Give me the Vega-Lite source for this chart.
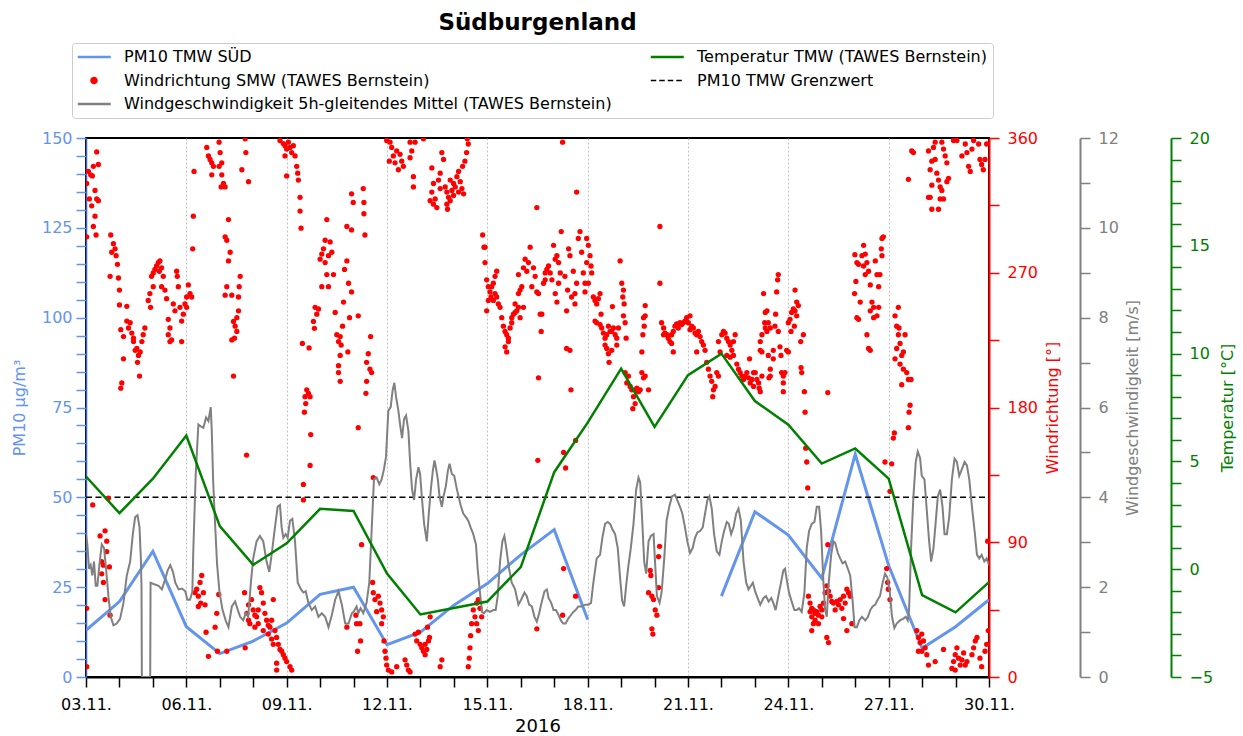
{
  "$schema": "https://vega.github.io/schema/vega-lite/v6.json",
  "width": 903,
  "height": 539,
  "autosize": "none",
  "padding": {"left": 86, "top": 138, "right": 254, "bottom": 59},
  "background": "white",
  "title": {"text": "Südburgenland", "font": "DejaVu Sans", "fontSize": 23, "fontWeight": "bold", "color": "black", "anchor": "middle", "offset": 8},
  "config": {
    "view": {"stroke": "black", "strokeWidth": 2},
    "font": "DejaVu Sans",
    "axis": {"labelFont": "DejaVu Sans", "titleFont": "DejaVu Sans", "labelFontSize": 16, "titleFontSize": 16, "titleFontWeight": "normal", "labelFlush": false, "labelBound": false, "labelOverlap": false, "grid": false, "tickWidth": 1.5, "domainWidth": 2}
  },
  "datasets": {
    "pm10": [
      {"day": 3, "pm10": 13, "abschnitt": "A"}, {"day": 4, "pm10": 21, "abschnitt": "A"}, {"day": 5, "pm10": 35, "abschnitt": "A"},
      {"day": 6, "pm10": 14, "abschnitt": "A"}, {"day": 7, "pm10": 6.5, "abschnitt": "A"}, {"day": 8, "pm10": 10, "abschnitt": "A"},
      {"day": 9, "pm10": 15, "abschnitt": "A"}, {"day": 10, "pm10": 23, "abschnitt": "A"}, {"day": 11, "pm10": 25, "abschnitt": "A"},
      {"day": 12, "pm10": 9, "abschnitt": "A"}, {"day": 13, "pm10": 12.5, "abschnitt": "A"}, {"day": 14, "pm10": 20, "abschnitt": "A"},
      {"day": 15, "pm10": 26, "abschnitt": "A"}, {"day": 16, "pm10": 34, "abschnitt": "A"}, {"day": 17, "pm10": 41, "abschnitt": "A"},
      {"day": 18, "pm10": 16, "abschnitt": "A"},
      {"day": 22, "pm10": 22.5, "abschnitt": "B"}, {"day": 23, "pm10": 46, "abschnitt": "B"}, {"day": 24, "pm10": 39.5, "abschnitt": "B"},
      {"day": 25, "pm10": 27.5, "abschnitt": "B"}, {"day": 26, "pm10": 62, "abschnitt": "B"}, {"day": 27, "pm10": 31, "abschnitt": "B"},
      {"day": 28, "pm10": 8, "abschnitt": "B"}, {"day": 29, "pm10": 14, "abschnitt": "B"}, {"day": 30, "pm10": 21.5, "abschnitt": "B"}
    ],
    "grenzwert": [{"day": 3, "grenzwert": 50}, {"day": 30, "grenzwert": 50}],
    "temp": [
      {"day": 3, "temp": 4.3}, {"day": 4, "temp": 2.6}, {"day": 5, "temp": 4.2}, {"day": 6, "temp": 6.2}, {"day": 7, "temp": 2.0},
      {"day": 8, "temp": 0.2}, {"day": 9, "temp": 1.2}, {"day": 10, "temp": 2.8}, {"day": 11, "temp": 2.7}, {"day": 12, "temp": -0.2},
      {"day": 13, "temp": -2.1}, {"day": 14, "temp": -1.8}, {"day": 15, "temp": -1.5}, {"day": 16, "temp": 0.1}, {"day": 17, "temp": 4.5},
      {"day": 18, "temp": 6.8}, {"day": 19, "temp": 9.3}, {"day": 20, "temp": 6.6}, {"day": 21, "temp": 9.0}, {"day": 22, "temp": 10.0},
      {"day": 23, "temp": 7.8}, {"day": 24, "temp": 6.7}, {"day": 25, "temp": 4.9}, {"day": 26, "temp": 5.6}, {"day": 27, "temp": 4.2},
      {"day": 28, "temp": -1.2}, {"day": 29, "temp": -2.0}, {"day": 30, "temp": -0.6}
    ],
    "ws": [
      {"day":3.00,"ws":3.18},{"day":3.04,"ws":2.95},{"day":3.09,"ws":2.41},{"day":3.14,"ws":2.49},{"day":3.19,"ws":2.26},{"day":3.24,"ws":2.57},
      {"day":3.29,"ws":2.03},{"day":3.34,"ws":2.03},{"day":3.40,"ws":2.49},{"day":3.47,"ws":2.95},{"day":3.54,"ws":2.87},{"day":3.60,"ws":2.41},
      {"day":3.67,"ws":1.80},{"day":3.74,"ws":1.34},{"day":3.82,"ws":1.15},{"day":3.92,"ws":1.19},{"day":4.02,"ws":1.30},{"day":4.12,"ws":1.65},
      {"day":4.22,"ws":2.26},{"day":4.32,"ws":2.57},{"day":4.40,"ws":3.18},{"day":4.47,"ws":3.56},{"day":4.54,"ws":3.60},{"day":4.60,"ws":3.33},
      {"day":4.64,"ws":2.64},{"day":4.66,"ws":2.0},{"day":4.67,"ws":0},{"day":4.92,"ws":0},{"day":4.93,"ws":2.1},{"day":5.02,"ws":2.07},
      {"day":5.17,"ws":2.03},{"day":5.27,"ws":1.95},{"day":5.37,"ws":2.18},{"day":5.44,"ws":2.37},{"day":5.52,"ws":2.49},{"day":5.60,"ws":2.34},
      {"day":5.67,"ws":2.10},{"day":5.77,"ws":1.95},{"day":5.87,"ws":1.97},{"day":5.97,"ws":1.91},{"day":6.03,"ws":1.72},{"day":6.11,"ws":1.72},
      {"day":6.18,"ws":1.90},{"day":6.21,"ws":2.87},{"day":6.28,"ws":4.5},{"day":6.36,"ws":5.62},{"day":6.43,"ws":5.58},{"day":6.51,"ws":5.55},
      {"day":6.59,"ws":5.78},{"day":6.66,"ws":5.70},{"day":6.73,"ws":6.01},{"day":6.76,"ws":5.5},{"day":6.80,"ws":4.4},{"day":6.86,"ws":3.4},
      {"day":6.92,"ws":2.5},{"day":6.99,"ws":1.9},{"day":7.08,"ws":1.5},{"day":7.18,"ws":1.25},{"day":7.26,"ws":1.11},{"day":7.36,"ws":1.57},
      {"day":7.46,"ws":1.68},{"day":7.54,"ws":1.49},{"day":7.61,"ws":1.34},{"day":7.70,"ws":1.26},{"day":7.78,"ws":1.42},{"day":7.85,"ws":1.34},
      {"day":7.93,"ws":2.10},{"day":8.00,"ws":2.64},{"day":8.10,"ws":3.02},{"day":8.20,"ws":3.14},{"day":8.30,"ws":3.02},{"day":8.40,"ws":2.57},
      {"day":8.48,"ws":2.34},{"day":8.55,"ws":2.72},{"day":8.65,"ws":3.33},{"day":8.73,"ws":3.79},{"day":8.80,"ws":3.83},{"day":8.85,"ws":3.33},
      {"day":8.90,"ws":3.10},{"day":8.97,"ws":3.18},{"day":9.03,"ws":3.10},{"day":9.10,"ws":3.48},{"day":9.17,"ws":3.52},{"day":9.25,"ws":3.02},
      {"day":9.33,"ws":2.10},{"day":9.43,"ws":1.95},{"day":9.50,"ws":1.88},{"day":9.57,"ws":1.91},{"day":9.65,"ws":1.65},{"day":9.75,"ws":1.49},
      {"day":9.85,"ws":1.57},{"day":9.95,"ws":1.34},{"day":10.05,"ws":1.42},{"day":10.15,"ws":1.34},{"day":10.25,"ws":1.11},{"day":10.35,"ws":1.38},
      {"day":10.45,"ws":1.72},{"day":10.55,"ws":1.91},{"day":10.65,"ws":1.61},{"day":10.75,"ws":1.19},{"day":10.85,"ws":1.19},{"day":10.95,"ws":1.42},
      {"day":11.00,"ws":1.45},{"day":11.09,"ws":1.57},{"day":11.14,"ws":1.42},{"day":11.21,"ws":1.53},{"day":11.29,"ws":1.42},{"day":11.39,"ws":1.65},
      {"day":11.47,"ws":2.10},{"day":11.54,"ws":3.25},{"day":11.61,"ws":4.40},{"day":11.69,"ws":4.44},{"day":11.77,"ws":4.29},{"day":11.84,"ws":4.40},
      {"day":11.91,"ws":4.63},{"day":11.97,"ws":4.90},{"day":12.04,"ws":5.93},{"day":12.11,"ws":6.01},{"day":12.17,"ws":6.39},{"day":12.22,"ws":6.55},
      {"day":12.27,"ws":6.24},{"day":12.34,"ws":5.93},{"day":12.39,"ws":5.63},{"day":12.45,"ws":5.32},{"day":12.51,"ws":5.74},{"day":12.57,"ws":5.82},
      {"day":12.64,"ws":5.48},{"day":12.69,"ws":4.79},{"day":12.75,"ws":4.17},{"day":12.81,"ws":3.94},{"day":12.87,"ws":4.40},{"day":12.94,"ws":4.67},
      {"day":12.99,"ws":4.52},{"day":13.04,"ws":4.02},{"day":13.11,"ws":3.41},{"day":13.19,"ws":3.02},{"day":13.25,"ws":3.64},{"day":13.31,"ws":4.17},
      {"day":13.37,"ws":4.59},{"day":13.42,"ws":4.82},{"day":13.47,"ws":4.63},{"day":13.52,"ws":4.40},{"day":13.57,"ws":4.02},{"day":13.64,"ws":3.79},
      {"day":13.69,"ws":4.02},{"day":13.76,"ws":4.25},{"day":13.82,"ws":4.59},{"day":13.87,"ws":4.75},{"day":13.94,"ws":4.52},{"day":14.01,"ws":4.48},
      {"day":14.07,"ws":4.25},{"day":14.14,"ws":4.02},{"day":14.20,"ws":3.83},{"day":14.28,"ws":3.64},{"day":14.36,"ws":3.56},{"day":14.43,"ws":3.48},
      {"day":14.50,"ws":3.33},{"day":14.58,"ws":3.18},{"day":14.66,"ws":2.95},{"day":14.71,"ws":2.41},{"day":14.78,"ws":1.88},{"day":14.84,"ws":1.45},
      {"day":14.90,"ws":1.42},{"day":14.98,"ws":1.49},{"day":15.08,"ws":1.45},{"day":15.18,"ws":1.49},{"day":15.25,"ws":1.49},{"day":15.31,"ws":1.80},
      {"day":15.38,"ws":2.57},{"day":15.45,"ws":3.02},{"day":15.51,"ws":3.14},{"day":15.58,"ws":2.80},{"day":15.65,"ws":2.41},{"day":15.73,"ws":2.10},
      {"day":15.83,"ws":1.95},{"day":15.93,"ws":1.61},{"day":16.01,"ws":1.72},{"day":16.11,"ws":1.88},{"day":16.18,"ws":1.80},{"day":16.25,"ws":1.61},
      {"day":16.33,"ws":1.57},{"day":16.41,"ws":1.34},{"day":16.48,"ws":1.23},{"day":16.55,"ws":1.42},{"day":16.63,"ws":1.68},{"day":16.71,"ws":1.91},
      {"day":16.78,"ws":1.95},{"day":16.83,"ws":1.76},{"day":16.91,"ws":1.65},{"day":16.98,"ws":1.49},{"day":17.05,"ws":1.49},{"day":17.13,"ws":1.38},
      {"day":17.20,"ws":1.26},{"day":17.27,"ws":1.19},{"day":17.34,"ws":1.19},{"day":17.42,"ws":1.30},{"day":17.50,"ws":1.38},{"day":17.57,"ws":1.45},
      {"day":17.64,"ws":1.49},{"day":17.72,"ws":1.57},{"day":17.82,"ws":1.57},{"day":17.92,"ws":1.61},{"day":18.02,"ws":1.61},{"day":18.10,"ws":1.65},
      {"day":18.17,"ws":2.10},{"day":18.27,"ws":2.64},{"day":18.37,"ws":2.72},{"day":18.44,"ws":3.10},{"day":18.52,"ws":3.41},{"day":18.60,"ws":3.45},
      {"day":18.67,"ws":3.41},{"day":18.74,"ws":3.29},{"day":18.82,"ws":3.18},{"day":18.90,"ws":2.87},{"day":18.97,"ws":2.20},{"day":19.03,"ws":1.70},
      {"day":19.09,"ws":1.57},{"day":19.15,"ws":2.03},{"day":19.22,"ws":2.49},{"day":19.29,"ws":2.87},{"day":19.37,"ws":3.41},{"day":19.45,"ws":4.17},
      {"day":19.52,"ws":4.44},{"day":19.57,"ws":4.33},{"day":19.62,"ws":3.64},{"day":19.69,"ws":2.57},{"day":19.75,"ws":2.30},{"day":19.82,"ws":3.02},
      {"day":19.89,"ws":3.14},{"day":19.97,"ws":3.18},{"day":20.02,"ws":2.49},{"day":20.07,"ws":1.80},{"day":20.15,"ws":1.65},{"day":20.21,"ws":1.88},
      {"day":20.29,"ws":2.64},{"day":20.36,"ws":3.48},{"day":20.44,"ws":3.79},{"day":20.52,"ws":4.02},{"day":20.61,"ws":4.06},{"day":20.68,"ws":3.94},
      {"day":20.76,"ws":3.79},{"day":20.83,"ws":3.64},{"day":20.91,"ws":3.33},{"day":20.98,"ws":3.02},{"day":21.06,"ws":2.76},{"day":21.14,"ws":2.87},
      {"day":21.21,"ws":3.10},{"day":21.28,"ws":3.22},{"day":21.36,"ws":3.25},{"day":21.44,"ws":3.33},{"day":21.51,"ws":3.64},{"day":21.58,"ws":3.94},
      {"day":21.64,"ws":4.02},{"day":21.71,"ws":3.75},{"day":21.78,"ws":3.18},{"day":21.86,"ws":2.80},{"day":21.94,"ws":2.72},{"day":22.01,"ws":3.02},
      {"day":22.08,"ws":3.25},{"day":22.16,"ws":3.45},{"day":22.22,"ws":3.41},{"day":22.29,"ws":3.18},{"day":22.36,"ws":3.33},{"day":22.44,"ws":3.64},
      {"day":22.51,"ws":3.75},{"day":22.58,"ws":3.48},{"day":22.66,"ws":2.57},{"day":22.74,"ws":2.10},{"day":22.81,"ws":1.95},{"day":22.88,"ws":2.03},
      {"day":22.94,"ws":2.10},{"day":23.01,"ws":1.90},{"day":23.08,"ws":1.76},{"day":23.16,"ws":1.61},{"day":23.26,"ws":1.76},{"day":23.33,"ws":1.80},
      {"day":23.41,"ws":1.68},{"day":23.49,"ws":1.76},{"day":23.55,"ws":1.65},{"day":23.62,"ws":1.49},{"day":23.70,"ws":1.80},{"day":23.78,"ws":2.10},
      {"day":23.85,"ws":2.37},{"day":23.90,"ws":2.41},{"day":23.95,"ws":2.18},{"day":24.02,"ws":1.88},{"day":24.10,"ws":1.68},{"day":24.18,"ws":1.49},
      {"day":24.25,"ws":1.49},{"day":24.32,"ws":1.53},{"day":24.40,"ws":1.45},{"day":24.48,"ws":1.88},{"day":24.55,"ws":2.87},{"day":24.62,"ws":3.25},
      {"day":24.70,"ws":3.41},{"day":24.78,"ws":3.45},{"day":24.85,"ws":3.79},{"day":24.92,"ws":3.79},{"day":24.98,"ws":3.25},{"day":25.05,"ws":2.10},
      {"day":25.10,"ws":1.49},{"day":25.15,"ws":1.34},{"day":25.20,"ws":2.03},{"day":25.28,"ws":2.72},{"day":25.35,"ws":3.02},{"day":25.40,"ws":2.99},
      {"day":25.48,"ws":2.76},{"day":25.55,"ws":2.64},{"day":25.62,"ws":2.53},{"day":25.70,"ws":2.57},{"day":25.78,"ws":2.41},{"day":25.85,"ws":2.26},
      {"day":25.92,"ws":1.72},{"day":25.98,"ws":1.11},{"day":26.05,"ws":1.11},{"day":26.12,"ws":1.26},{"day":26.20,"ws":1.34},{"day":26.30,"ws":1.26},
      {"day":26.38,"ws":1.34},{"day":26.45,"ws":1.49},{"day":26.52,"ws":1.57},{"day":26.60,"ws":1.61},{"day":26.67,"ws":1.72},{"day":26.74,"ws":1.80},
      {"day":26.82,"ws":2.10},{"day":26.89,"ws":2.30},{"day":26.96,"ws":2.22},{"day":27.03,"ws":1.92},{"day":27.10,"ws":1.34},{"day":27.17,"ws":1.09},
      {"day":27.24,"ws":1.19},{"day":27.34,"ws":1.26},{"day":27.44,"ws":1.30},{"day":27.51,"ws":1.34},{"day":27.57,"ws":1.26},{"day":27.61,"ws":1.49},
      {"day":27.67,"ws":2.87},{"day":27.74,"ws":4.02},{"day":27.81,"ws":4.79},{"day":27.87,"ws":5.02},{"day":27.94,"ws":4.87},{"day":27.99,"ws":4.48},
      {"day":28.07,"ws":4.40},{"day":28.14,"ws":3.71},{"day":28.21,"ws":3.02},{"day":28.27,"ws":2.57},{"day":28.34,"ws":2.87},{"day":28.41,"ws":3.48},
      {"day":28.47,"ws":4.02},{"day":28.54,"ws":4.17},{"day":28.61,"ws":3.79},{"day":28.67,"ws":3.18},{"day":28.74,"ws":3.18},{"day":28.81,"ws":3.56},
      {"day":28.89,"ws":4.40},{"day":28.97,"ws":4.86},{"day":29.04,"ws":4.79},{"day":29.11,"ws":4.48},{"day":29.19,"ws":4.63},{"day":29.27,"ws":4.79},
      {"day":29.34,"ws":4.71},{"day":29.41,"ws":4.40},{"day":29.49,"ws":3.79},{"day":29.57,"ws":3.25},{"day":29.64,"ws":2.72},{"day":29.71,"ws":2.64},
      {"day":29.78,"ws":2.72},{"day":29.86,"ws":2.57},{"day":29.93,"ws":2.64},{"day":30.00,"ws":2.49}
    ],
    "wd": [
      {"day":3.02,"wd":329.6},{"day":3.07,"wd":337.7},{"day":3.14,"wd":335.4},{"day":3.19,"wd":334.7},{"day":3.10,"wd":319.3},{"day":3.17,"wd":314.7},
      {"day":3.27,"wd":325.0},{"day":3.32,"wd":319.3},{"day":3.37,"wd":318.1},{"day":3.22,"wd":341.1},{"day":3.32,"wd":350.7},{"day":3.27,"wd":307.8},
      {"day":3.22,"wd":300.9},{"day":3.02,"wd":294.0},{"day":3.30,"wd":295.2},{"day":3.37,"wd":342.3},{"day":3.74,"wd":295.2},{"day":3.82,"wd":289.4},
      {"day":3.87,"wd":286.0},{"day":3.77,"wd":283.7},{"day":3.90,"wd":281.4},{"day":3.94,"wd":275.6},{"day":3.72,"wd":267.6},{"day":3.97,"wd":266.5},
      {"day":4.00,"wd":258.4},{"day":4.00,"wd":248.5},{"day":4.22,"wd":247.6},{"day":4.04,"wd":232.0},{"day":4.12,"wd":227.4},{"day":4.22,"wd":237.7},
      {"day":4.27,"wd":233.1},{"day":4.32,"wd":236.6},{"day":4.37,"wd":229.7},{"day":4.42,"wd":224.0},{"day":4.47,"wd":218.2},{"day":4.52,"wd":219.4},
      {"day":4.57,"wd":214.8},{"day":4.62,"wd":217.1},{"day":4.67,"wd":224.0},{"day":4.71,"wd":228.6},{"day":4.76,"wd":233.1},{"day":4.54,"wd":210.2},
      {"day":4.60,"wd":201.0},{"day":4.07,"wd":196.4},{"day":4.04,"wd":192.9},{"day":4.12,"wd":212.5},{"day":4.42,"wd":226.3},{"day":4.86,"wd":251.5},
      {"day":4.91,"wd":256.1},{"day":4.96,"wd":267.6},{"day":5.01,"wd":269.9},{"day":5.06,"wd":272.2},{"day":5.11,"wd":274.5},{"day":5.16,"wd":276.8},
      {"day":5.21,"wd":277.9},{"day":5.26,"wd":273.3},{"day":5.19,"wd":271.0},{"day":5.31,"wd":267.6},{"day":5.26,"wd":260.7},{"day":5.36,"wd":258.4},
      {"day":5.41,"wd":252.7},{"day":4.93,"wd":246.9},{"day":5.01,"wd":260.7},{"day":5.46,"wd":238.9},{"day":5.51,"wd":233.1},{"day":5.46,"wd":228.6},
      {"day":5.56,"wd":225.1},{"day":5.51,"wd":224.0},{"day":5.61,"wd":249.2},{"day":5.66,"wd":244.6},{"day":5.71,"wd":271.0},{"day":5.73,"wd":267.6},
      {"day":5.76,"wd":260.7},{"day":5.81,"wd":246.9},{"day":5.86,"wd":237.7},{"day":5.86,"wd":224.0},{"day":5.91,"wd":242.3},{"day":5.96,"wd":249.2},
      {"day":6.01,"wd":253.8},{"day":6.06,"wd":261.9},{"day":6.11,"wd":256.1},{"day":6.16,"wd":253.8},{"day":6.01,"wd":246.9},{"day":6.23,"wd":337.7},
      {"day":6.21,"wd":307.8},{"day":6.19,"wd":286.0},{"day":6.61,"wd":353.7},{"day":6.66,"wd":348.0},{"day":6.71,"wd":345.7},{"day":6.76,"wd":343.4},
      {"day":6.81,"wd":341.1},{"day":6.76,"wd":335.4},
      {"day":3.02,"wd":6.9},{"day":3.02,"wd":45.9},{"day":3.20,"wd":114.9},{"day":3.67,"wd":119.4},{"day":3.42,"wd":94.2},{"day":3.57,"wd":97.6},
      {"day":3.62,"wd":90.7},{"day":3.47,"wd":77.0},{"day":3.52,"wd":74.7},{"day":3.47,"wd":68.9},{"day":3.52,"wd":63.2},{"day":3.57,"wd":51.7},
      {"day":3.62,"wd":83.8},{"day":3.70,"wd":73.5},{"day":3.72,"wd":41.3},{"day":6.26,"wd":56.3},{"day":6.31,"wd":58.6},{"day":6.36,"wd":54.0},
      {"day":6.41,"wd":63.2},{"day":6.46,"wd":67.8},{"day":6.51,"wd":56.3},{"day":6.43,"wd":49.4},{"day":6.36,"wd":47.1},{"day":6.56,"wd":48.2},
      {"day":6.59,"wd":29.9},{"day":6.66,"wd":13.8},{"day":6.86,"wd":33.3},{"day":6.91,"wd":42.5},{"day":6.97,"wd":55.1},{"day":6.93,"wd":17.2},
      {"day":6.98,"wd":357.2},{"day":7.01,"wd":350.3},{"day":7.06,"wd":343.4},{"day":6.98,"wd":341.1},{"day":7.06,"wd":335.4},{"day":7.11,"wd":329.6},
      {"day":7.04,"wd":327.3},{"day":7.16,"wd":327.3},{"day":7.26,"wd":305.5},{"day":7.16,"wd":294.0},{"day":7.21,"wd":291.7},{"day":7.31,"wd":283.7},
      {"day":7.26,"wd":277.9},{"day":7.21,"wd":260.7},{"day":7.16,"wd":255.0},{"day":7.36,"wd":255.0},{"day":7.56,"wd":253.8},{"day":7.61,"wd":267.6},
      {"day":7.58,"wd":260.7},{"day":7.56,"wd":244.6},{"day":7.51,"wd":240.0},{"day":7.41,"wd":237.5},{"day":7.46,"wd":234.3},{"day":7.51,"wd":230.8},
      {"day":7.44,"wd":226.3},{"day":7.36,"wd":225.1},{"day":7.41,"wd":201.0},{"day":7.80,"wd":148.2},{"day":7.66,"wd":338.8},{"day":7.78,"wd":350.3},
      {"day":7.86,"wd":330.8},{"day":7.76,"wd":359.5},{"day":8.80,"wd":358.3},{"day":8.90,"wd":356.3},{"day":8.95,"wd":354.9},{"day":9.00,"wd":352.6},
      {"day":9.05,"wd":357.2},{"day":9.10,"wd":353.7},{"day":9.15,"wd":350.3},{"day":9.20,"wd":354.9},{"day":9.25,"wd":348.0},{"day":8.95,"wd":348.0},
      {"day":9.00,"wd":334.7},{"day":9.30,"wd":341.1},{"day":9.33,"wd":336.5},{"day":9.35,"wd":331.9},{"day":9.40,"wd":320.4},{"day":9.40,"wd":311.2},
      {"day":9.43,"wd":299.8},{"day":9.47,"wd":222.8},{"day":9.67,"wd":219.8},{"day":9.60,"wd":191.8},{"day":9.65,"wd":189.5},{"day":9.55,"wd":187.2},
      {"day":9.70,"wd":187.2},{"day":9.57,"wd":182.6},{"day":9.53,"wd":176.9},{"day":9.72,"wd":161.9},{"day":9.70,"wd":141.3},{"day":9.50,"wd":128.6},
      {"day":9.50,"wd":118.3},{"day":10.20,"wd":305.5},{"day":10.15,"wd":291.7},{"day":10.10,"wd":286.0},{"day":10.05,"wd":282.5},{"day":10.00,"wd":279.1},
      {"day":10.15,"wd":276.8},{"day":10.25,"wd":281.4},{"day":10.30,"wd":290.6},{"day":10.35,"wd":283.7},{"day":10.20,"wd":268.8},{"day":10.40,"wd":268.8},
      {"day":10.05,"wd":260.7},{"day":10.25,"wd":260.7},{"day":9.85,"wd":246.9},{"day":9.95,"wd":245.8},{"day":9.90,"wd":242.3},{"day":9.80,"wd":237.5},
      {"day":9.83,"wd":232.9},{"day":10.80,"wd":300.9},{"day":10.80,"wd":277.9},{"day":10.73,"wd":272.2},{"day":10.85,"wd":263.0},{"day":10.70,"wd":250.4},
      {"day":10.45,"wd":243.5},{"day":10.67,"wd":234.3},{"day":10.50,"wd":228.6},{"day":10.60,"wd":227.4},{"day":10.55,"wd":224.0},{"day":10.63,"wd":221.7},
      {"day":10.60,"wd":214.8},{"day":10.83,"wd":217.1},{"day":10.55,"wd":207.9},{"day":10.55,"wd":203.3},{"day":10.60,"wd":197.5},{"day":10.88,"wd":240.0},
      {"day":7.21,"wd":17.2},{"day":7.76,"wd":19.5},{"day":7.74,"wd":56.3},{"day":7.86,"wd":48.2},{"day":7.81,"wd":42.5},{"day":7.95,"wd":51.7},
      {"day":8.00,"wd":44.8},{"day":8.05,"wd":41.3},{"day":8.10,"wd":40.2},{"day":8.15,"wd":44.8},{"day":8.20,"wd":59.7},{"day":8.25,"wd":56.3},
      {"day":8.30,"wd":49.4},{"day":8.35,"wd":42.5},{"day":8.40,"wd":37.9},{"day":8.45,"wd":34.5},{"day":8.50,"wd":33.3},{"day":8.55,"wd":37.9},
      {"day":8.60,"wd":51.7},{"day":8.65,"wd":31.0},{"day":8.70,"wd":26.4},{"day":8.75,"wd":21.8},{"day":8.80,"wd":18.4},{"day":8.85,"wd":17.2},
      {"day":8.90,"wd":14.9},{"day":8.95,"wd":12.6},{"day":9.00,"wd":10.3},{"day":9.10,"wd":6.9},{"day":9.15,"wd":4.6},{"day":8.70,"wd":9.2},
      {"day":8.70,"wd":4.6},{"day":7.90,"wd":35.6},{"day":8.05,"wd":33.3},{"day":8.30,"wd":31.0},{"day":8.45,"wd":28.7},{"day":8.55,"wd":25.3},
      {"day":8.60,"wd":21.8},{"day":7.86,"wd":37.9},{"day":8.15,"wd":35.6},{"day":10.80,"wd":33.3},
      {"day":10.94,"wd":322.7},{"day":10.99,"wd":317.0},{"day":11.29,"wd":326.2},{"day":11.31,"wd":317.0},{"day":11.31,"wd":309.4},{"day":11.34,"wd":295.2},
      {"day":10.94,"wd":298.6},{"day":10.94,"wd":257.2},{"day":11.14,"wd":241.2},{"day":11.51,"wd":227.4},{"day":11.44,"wd":215.9},{"day":11.39,"wd":210.2},
      {"day":11.49,"wd":205.6},{"day":11.54,"wd":203.3},{"day":11.39,"wd":197.5},{"day":11.37,"wd":189.5},{"day":11.14,"wd":166.5},{"day":11.24,"wd":88.4},
      {"day":11.59,"wd":133.2},{"day":11.99,"wd":358.3},{"day":12.09,"wd":357.2},{"day":12.14,"wd":353.7},{"day":12.07,"wd":344.5},{"day":12.19,"wd":348.0},
      {"day":12.29,"wd":351.4},{"day":12.39,"wd":349.1},{"day":12.44,"wd":344.5},{"day":12.49,"wd":341.1},{"day":12.34,"wd":338.8},{"day":12.24,"wd":343.4},
      {"day":12.69,"wd":357.2},{"day":12.74,"wd":351.4},{"day":12.69,"wd":346.8},{"day":12.84,"wd":357.2},{"day":12.79,"wd":334.2},{"day":12.79,"wd":327.3},
      {"day":13.09,"wd":359.5},{"day":13.34,"wd":340.0},{"day":13.39,"wd":329.6},{"day":13.34,"wd":323.9},{"day":13.29,"wd":318.1},{"day":13.44,"wd":319.3},
      {"day":13.39,"wd":315.8},{"day":13.49,"wd":313.5},{"day":13.59,"wd":336.5},{"day":13.64,"wd":350.3},{"day":13.69,"wd":345.7},{"day":13.54,"wd":331.9},
      {"day":13.59,"wd":326.2},{"day":13.74,"wd":327.3},{"day":13.79,"wd":323.9},{"day":13.84,"wd":320.4},{"day":13.79,"wd":315.8},{"day":13.89,"wd":331.9},
      {"day":13.99,"wd":329.6},{"day":13.94,"wd":325.0},{"day":14.04,"wd":327.3},{"day":14.09,"wd":334.2},{"day":14.14,"wd":337.7},{"day":14.19,"wd":330.8},
      {"day":14.24,"wd":326.2},{"day":14.29,"wd":322.7},{"day":14.33,"wd":344.5},{"day":14.38,"wd":350.3},{"day":14.43,"wd":356.0},{"day":14.40,"wd":359.5},
      {"day":14.26,"wd":341.1},{"day":13.89,"wd":318.1},{"day":13.81,"wd":312.4},{"day":13.99,"wd":321.6},{"day":14.14,"wd":323.9},{"day":14.86,"wd":295.2},
      {"day":14.90,"wd":287.1},
      {"day":11.07,"wd":41.3},{"day":11.09,"wd":35.6},{"day":11.19,"wd":35.6},{"day":11.21,"wd":24.1},{"day":11.12,"wd":17.2},{"day":11.57,"wd":63.2},
      {"day":11.59,"wd":56.3},{"day":11.64,"wd":51.7},{"day":11.69,"wd":43.6},{"day":11.74,"wd":54.0},{"day":11.79,"wd":49.4},{"day":11.84,"wd":44.8},
      {"day":11.89,"wd":40.2},{"day":11.84,"wd":35.6},{"day":11.91,"wd":24.1},{"day":11.94,"wd":17.2},{"day":11.97,"wd":12.6},{"day":11.99,"wd":8.0},
      {"day":12.04,"wd":4.6},{"day":12.14,"wd":3.4},{"day":12.29,"wd":6.9},{"day":12.54,"wd":11.5},{"day":12.59,"wd":8.0},{"day":12.64,"wd":4.6},
      {"day":12.69,"wd":3.4},{"day":12.84,"wd":28.7},{"day":12.89,"wd":24.1},{"day":12.94,"wd":29.9},{"day":12.99,"wd":21.8},{"day":13.04,"wd":19.5},
      {"day":13.09,"wd":17.2},{"day":13.14,"wd":21.8},{"day":13.19,"wd":18.4},{"day":13.24,"wd":24.1},{"day":13.21,"wd":33.3},{"day":13.14,"wd":14.9},
      {"day":13.27,"wd":26.4},{"day":13.29,"wd":40.2},{"day":13.59,"wd":6.9},{"day":13.64,"wd":11.5},{"day":14.43,"wd":6.9},{"day":14.46,"wd":12.6},
      {"day":14.48,"wd":19.5},{"day":14.50,"wd":27.6},{"day":14.53,"wd":35.6},{"day":14.58,"wd":44.8},{"day":14.63,"wd":40.2},{"day":14.68,"wd":49.4},
      {"day":14.73,"wd":51.7},{"day":14.78,"wd":45.9},{"day":14.83,"wd":40.2},{"day":14.68,"wd":35.6},{"day":14.73,"wd":31.0},
      {"day":14.93,"wd":287.1},{"day":14.93,"wd":276.8},{"day":14.98,"wd":265.3},{"day":15.03,"wd":260.7},{"day":15.08,"wd":257.2},{"day":15.13,"wd":260.7},
      {"day":15.18,"wd":263.0},{"day":15.23,"wd":267.6},{"day":15.28,"wd":271.0},{"day":15.11,"wd":253.8},{"day":15.18,"wd":251.5},{"day":15.23,"wd":256.1},
      {"day":15.28,"wd":253.8},{"day":15.33,"wd":249.2},{"day":15.38,"wd":246.9},{"day":15.03,"wd":251.5},{"day":14.98,"wd":244.6},{"day":15.43,"wd":240.0},
      {"day":15.48,"wd":234.3},{"day":15.53,"wd":230.8},{"day":15.58,"wd":228.6},{"day":15.63,"wd":224.0},{"day":15.58,"wd":217.1},{"day":15.53,"wd":220.5},
      {"day":15.63,"wd":226.3},{"day":15.68,"wd":233.1},{"day":15.73,"wd":236.6},{"day":15.78,"wd":242.3},{"day":15.83,"wd":243.5},{"day":15.88,"wd":244.6},
      {"day":15.93,"wd":246.9},{"day":15.73,"wd":240.0},{"day":15.83,"wd":249.2},{"day":15.93,"wd":256.1},{"day":15.98,"wd":258.4},{"day":16.03,"wd":260.7},
      {"day":15.93,"wd":268.8},{"day":16.08,"wd":273.3},{"day":16.13,"wd":279.1},{"day":16.08,"wd":246.9},{"day":15.98,"wd":240.0},{"day":16.18,"wd":271.0},
      {"day":16.23,"wd":276.8},{"day":16.28,"wd":287.1},{"day":16.33,"wd":260.7},{"day":16.38,"wd":273.3},{"day":16.43,"wd":267.6},{"day":16.48,"wd":257.2},
      {"day":16.53,"wd":256.1},{"day":16.58,"wd":242.3},{"day":16.63,"wd":242.3},{"day":16.61,"wd":230.8},{"day":16.53,"wd":199.8},{"day":16.48,"wd":313.5},
      {"day":16.51,"wd":144.7},{"day":16.68,"wd":263.0},{"day":16.73,"wd":269.9},{"day":16.78,"wd":272.2},{"day":16.73,"wd":265.3},{"day":16.83,"wd":274.5},
      {"day":16.88,"wd":269.9},{"day":16.93,"wd":265.3},{"day":16.98,"wd":288.3},{"day":17.03,"wd":279.1},{"day":17.03,"wd":256.1},{"day":17.08,"wd":250.4},
      {"day":17.08,"wd":281.4},{"day":17.13,"wd":276.8},{"day":17.18,"wd":269.9},{"day":17.13,"wd":263.0},{"day":17.21,"wd":297.5},{"day":17.25,"wd":357.2},
      {"day":17.32,"wd":267.6},{"day":17.37,"wd":244.6},{"day":17.43,"wd":286.0},{"day":17.40,"wd":258.4},{"day":17.47,"wd":281.4},{"day":17.52,"wd":253.8},
      {"day":17.57,"wd":271.0},{"day":17.62,"wd":256.1},{"day":17.67,"wd":263.0},{"day":17.62,"wd":249.2},{"day":17.67,"wd":323.9},{"day":17.72,"wd":292.9},
      {"day":17.77,"wd":297.5},{"day":17.82,"wd":283.7},{"day":17.87,"wd":269.9},{"day":17.92,"wd":263.0},{"day":17.92,"wd":257.2},{"day":17.97,"wd":276.8},
      {"day":17.97,"wd":292.9},{"day":18.02,"wd":288.3},{"day":18.07,"wd":281.4},{"day":18.10,"wd":274.5},{"day":18.12,"wd":269.9},{"day":18.02,"wd":263.0},
      {"day":17.37,"wd":219.4},{"day":17.47,"wd":218.2},{"day":17.50,"wd":191.8},{"day":17.28,"wd":150.0},{"day":17.34,"wd":139.6},{"day":17.64,"wd":158.0},
      {"day":17.28,"wd":72.4},{"day":17.64,"wd":54.0},{"day":17.25,"wd":41.3},{"day":16.48,"wd":32.2},
      {"day":18.17,"wd":253.8},{"day":18.22,"wd":251.5},{"day":18.27,"wd":249.2},{"day":18.32,"wd":252.7},{"day":18.37,"wd":256.1},{"day":18.22,"wd":237.7},
      {"day":18.27,"wd":236.6},{"day":18.37,"wd":235.4},{"day":18.42,"wd":233.1},{"day":18.47,"wd":229.7},{"day":18.52,"wd":226.3},{"day":18.57,"wd":228.6},
      {"day":18.62,"wd":234.3},{"day":18.67,"wd":230.8},{"day":18.72,"wd":230.8},{"day":18.77,"wd":233.1},{"day":18.82,"wd":228.6},{"day":18.87,"wd":226.3},
      {"day":18.92,"wd":233.1},{"day":18.52,"wd":221.7},{"day":18.57,"wd":219.4},{"day":18.62,"wd":215.9},{"day":18.64,"wd":210.2},{"day":18.72,"wd":218.2},
      {"day":18.87,"wd":221.7},{"day":18.40,"wd":242.3},{"day":18.74,"wd":247.4},
      {"day":18.97,"wd":277.9},{"day":19.02,"wd":263.0},{"day":19.07,"wd":258.4},{"day":19.05,"wd":253.8},{"day":19.09,"wd":249.2},{"day":19.07,"wd":241.2},
      {"day":19.12,"wd":236.6},{"day":19.15,"wd":226.3},{"day":19.12,"wd":203.3},{"day":19.17,"wd":196.4},{"day":19.22,"wd":201.0},{"day":19.27,"wd":194.1},
      {"day":19.32,"wd":191.8},{"day":19.37,"wd":187.2},{"day":19.42,"wd":191.8},{"day":19.47,"wd":192.9},{"day":19.52,"wd":190.6},{"day":19.57,"wd":191.8},
      {"day":19.35,"wd":179.2},{"day":19.42,"wd":182.6},{"day":19.62,"wd":203.3},{"day":19.67,"wd":199.8},{"day":19.72,"wd":201.0},{"day":19.82,"wd":191.8},
      {"day":19.62,"wd":217.1},{"day":19.65,"wd":228.6},{"day":19.69,"wd":234.3},{"day":19.72,"wd":241.2},{"day":19.72,"wd":248.1},{"day":19.67,"wd":240.0},
      {"day":20.16,"wd":300.9},{"day":20.16,"wd":263.0},{"day":20.21,"wd":236.6},{"day":20.27,"wd":233.1},{"day":20.31,"wd":229.7},{"day":20.27,"wd":228.6},
      {"day":20.37,"wd":228.6},{"day":20.41,"wd":226.3},{"day":20.46,"wd":224.0},{"day":20.51,"wd":222.8},{"day":20.56,"wd":217.1},{"day":20.51,"wd":228.6},
      {"day":20.56,"wd":230.8},{"day":20.61,"wd":234.3},{"day":20.66,"wd":235.9},{"day":20.71,"wd":233.1},{"day":20.76,"wd":236.6},{"day":20.81,"wd":235.4},
      {"day":20.86,"wd":236.6},{"day":20.91,"wd":237.7},{"day":20.96,"wd":240.0},{"day":21.01,"wd":236.6},{"day":21.06,"wd":241.2},{"day":21.11,"wd":234.3},
      {"day":21.06,"wd":232.0},{"day":21.16,"wd":233.1},{"day":21.21,"wd":229.7},{"day":21.26,"wd":228.6},{"day":21.31,"wd":230.8},{"day":21.36,"wd":227.4},
      {"day":21.41,"wd":224.0},{"day":21.46,"wd":221.7},{"day":21.51,"wd":218.2},{"day":21.26,"wd":217.1},{"day":21.56,"wd":210.2},{"day":21.61,"wd":205.6},
      {"day":21.66,"wd":201.0},{"day":21.71,"wd":197.5},{"day":21.76,"wd":191.8},{"day":21.81,"wd":194.1},{"day":21.86,"wd":203.3},{"day":21.91,"wd":201.0},
      {"day":21.74,"wd":187.2},{"day":21.91,"wd":224.0},{"day":21.96,"wd":217.1},{"day":22.01,"wd":228.6},{"day":22.06,"wd":230.8},{"day":22.11,"wd":229.7},
      {"day":22.16,"wd":226.3},{"day":22.21,"wd":224.0},{"day":22.26,"wd":221.7},{"day":22.31,"wd":218.2},{"day":22.36,"wd":214.8},{"day":22.41,"wd":228.6},
      {"day":22.36,"wd":224.0},{"day":22.26,"wd":213.6},{"day":22.16,"wd":214.8},{"day":22.46,"wd":209.0},{"day":22.51,"wd":205.6},{"day":22.56,"wd":203.3},
      {"day":22.61,"wd":201.0},{"day":22.66,"wd":198.7},{"day":22.71,"wd":201.0},{"day":22.76,"wd":203.3},{"day":22.81,"wd":199.8},{"day":22.86,"wd":196.4},
      {"day":22.91,"wd":198.7},{"day":22.96,"wd":194.1},{"day":22.84,"wd":212.5},{"day":22.96,"wd":203.3},
      {"day":19.87,"wd":71.2},{"day":19.89,"wd":67.8},{"day":19.82,"wd":56.3},{"day":19.92,"wd":54.0},{"day":19.97,"wd":51.7},{"day":20.02,"wd":44.8},
      {"day":20.07,"wd":41.3},{"day":20.12,"wd":59.7},{"day":20.12,"wd":80.4},{"day":20.15,"wd":87.3},{"day":19.92,"wd":32.2},{"day":19.95,"wd":28.7},
      {"day":23.01,"wd":203.3},{"day":23.06,"wd":198.7},{"day":23.11,"wd":196.4},{"day":23.13,"wd":192.9},{"day":23.16,"wd":190.6},{"day":23.21,"wd":201.0},
      {"day":23.26,"wd":256.1},{"day":23.31,"wd":243.5},{"day":23.36,"wd":244.6},{"day":23.29,"wd":236.6},{"day":23.31,"wd":233.1},{"day":23.36,"wd":230.8},
      {"day":23.21,"wd":228.6},{"day":23.16,"wd":224.0},{"day":23.16,"wd":218.2},{"day":23.21,"wd":217.1},{"day":23.40,"wd":236.6},{"day":23.46,"wd":233.1},
      {"day":23.40,"wd":214.8},{"day":23.46,"wd":205.6},{"day":23.42,"wd":199.8},{"day":23.55,"wd":218.2},{"day":23.60,"wd":234.3},{"day":23.65,"wd":257.2},
      {"day":23.68,"wd":265.3},{"day":23.70,"wd":268.8},{"day":23.62,"wd":242.3},{"day":23.70,"wd":230.8},{"day":23.75,"wd":220.5},{"day":23.78,"wd":214.8},
      {"day":23.80,"wd":203.3},{"day":23.85,"wd":201.0},{"day":23.90,"wd":203.3},{"day":23.85,"wd":196.4},{"day":23.85,"wd":190.6},{"day":23.95,"wd":218.2},
      {"day":24.00,"wd":217.1},{"day":23.55,"wd":212.5},{"day":23.46,"wd":201.0},{"day":24.00,"wd":236.6},{"day":24.05,"wd":238.9},{"day":24.10,"wd":243.5},
      {"day":24.15,"wd":245.8},{"day":24.20,"wd":244.6},{"day":24.25,"wd":250.4},{"day":24.30,"wd":248.1},{"day":24.20,"wd":258.4},{"day":24.25,"wd":241.2},
      {"day":24.18,"wd":234.3},{"day":24.08,"wd":230.8},{"day":24.37,"wd":224.0},{"day":24.45,"wd":228.6},{"day":24.38,"wd":206.7},{"day":24.40,"wd":203.3},
      {"day":24.48,"wd":190.6},{"day":24.50,"wd":176.9},{"day":24.52,"wd":152.8},{"day":24.55,"wd":143.6},{"day":24.58,"wd":126.3},{"day":25.18,"wd":190.0},
      {"day":25.99,"wd":282.1},{"day":26.05,"wd":276.8},{"day":26.02,"wd":264.2},{"day":25.98,"wd":256.1},{"day":26.10,"wd":275.6},{"day":26.15,"wd":250.4},
      {"day":26.05,"wd":240.0},{"day":26.10,"wd":238.9},{"day":26.20,"wd":281.4},{"day":26.25,"wd":288.3},{"day":26.30,"wd":282.5},{"day":26.25,"wd":274.5},
      {"day":26.35,"wd":276.8},{"day":26.30,"wd":268.8},{"day":26.40,"wd":271.0},{"day":26.45,"wd":261.9},{"day":26.50,"wd":250.4},{"day":26.45,"wd":244.6},
      {"day":26.55,"wd":246.9},{"day":26.55,"wd":240.0},{"day":26.60,"wd":277.9},{"day":26.65,"wd":268.8},{"day":26.70,"wd":260.7},{"day":26.74,"wd":268.8},
      {"day":26.70,"wd":246.9},{"day":26.80,"wd":281.4},{"day":26.80,"wd":292.9},{"day":26.84,"wd":294.0},{"day":26.78,"wd":286.0},{"day":26.35,"wd":228.6},
      {"day":26.40,"wd":219.4},{"day":26.45,"wd":218.2},{"day":26.65,"wd":241.2},
      {"day":25.18,"wd":88.4},{"day":24.60,"wd":54.0},{"day":24.65,"wd":49.4},{"day":24.70,"wd":45.9},{"day":24.75,"wd":44.8},{"day":24.80,"wd":42.5},
      {"day":24.85,"wd":43.6},{"day":24.90,"wd":41.3},{"day":24.95,"wd":47.1},{"day":25.00,"wd":44.8},{"day":25.05,"wd":49.4},{"day":24.65,"wd":43.6},
      {"day":24.70,"wd":40.2},{"day":24.75,"wd":35.6},{"day":24.80,"wd":37.9},{"day":24.90,"wd":35.6},{"day":25.00,"wd":40.2},{"day":25.10,"wd":56.3},
      {"day":25.15,"wd":60.9},{"day":25.20,"wd":57.4},{"day":25.25,"wd":54.0},{"day":25.30,"wd":50.5},{"day":25.35,"wd":49.4},{"day":25.40,"wd":44.8},
      {"day":25.45,"wd":50.5},{"day":25.50,"wd":48.2},{"day":25.55,"wd":51.7},{"day":25.60,"wd":45.9},{"day":25.65,"wd":54.0},{"day":25.70,"wd":49.4},
      {"day":25.75,"wd":58.6},{"day":25.80,"wd":56.3},{"day":25.85,"wd":54.0},{"day":25.90,"wd":35.6},{"day":25.75,"wd":31.0},{"day":25.65,"wd":39.0},
      {"day":25.15,"wd":26.4},{"day":25.20,"wd":23.0},{"day":24.70,"wd":31.0},
      {"day":26.89,"wd":143.6},{"day":27.09,"wd":142.4},{"day":27.04,"wd":124.0},{"day":26.94,"wd":72.4},{"day":26.97,"wd":63.2},{"day":26.99,"wd":58.6},
      {"day":27.04,"wd":51.7},{"day":27.14,"wd":159.6},{"day":27.17,"wd":163.0},{"day":27.29,"wd":246.9},{"day":27.19,"wd":241.2},{"day":27.24,"wd":234.3},
      {"day":27.31,"wd":233.1},{"day":27.29,"wd":228.6},{"day":27.49,"wd":228.6},{"day":27.24,"wd":219.4},{"day":27.34,"wd":222.8},{"day":27.44,"wd":217.1},
      {"day":27.39,"wd":214.8},{"day":27.34,"wd":209.0},{"day":27.19,"wd":212.5},{"day":27.44,"wd":205.6},{"day":27.54,"wd":203.3},{"day":27.59,"wd":198.7},
      {"day":27.67,"wd":198.7},{"day":27.39,"wd":195.2},{"day":27.64,"wd":181.5},{"day":27.61,"wd":176.9},{"day":27.59,"wd":166.5},
      {"day":27.59,"wd":332.4},{"day":27.69,"wd":351.4},{"day":27.74,"wd":350.3},{"day":28.19,"wd":351.4},{"day":28.24,"wd":338.8},{"day":28.29,"wd":344.5},
      {"day":28.34,"wd":353.7},{"day":28.39,"wd":345.7},{"day":28.44,"wd":336.5},{"day":28.49,"wd":331.9},{"day":28.54,"wd":327.3},{"day":28.59,"wd":325.0},
      {"day":28.64,"wd":319.3},{"day":28.54,"wd":319.3},{"day":28.49,"wd":312.4},{"day":28.29,"wd":312.4},{"day":28.24,"wd":320.4},{"day":28.19,"wd":320.4},
      {"day":28.29,"wd":328.5},{"day":28.39,"wd":357.2},{"day":28.59,"wd":357.2},{"day":28.64,"wd":352.6},{"day":28.69,"wd":348.0},{"day":28.74,"wd":343.4},
      {"day":28.79,"wd":333.1},{"day":28.74,"wd":330.8},{"day":28.94,"wd":358.3},{"day":29.04,"wd":358.3},{"day":29.19,"wd":348.0},{"day":29.29,"wd":356.0},
      {"day":29.34,"wd":350.3},{"day":29.39,"wd":341.1},{"day":29.44,"wd":337.7},{"day":29.49,"wd":352.6},{"day":29.54,"wd":358.3},{"day":29.69,"wd":356.0},
      {"day":29.73,"wd":345.7},{"day":29.78,"wd":342.3},{"day":29.83,"wd":338.8},{"day":29.88,"wd":345.7},{"day":29.93,"wd":356.0},
      {"day":27.84,"wd":31.0},{"day":27.89,"wd":26.4},{"day":27.94,"wd":23.0},{"day":27.99,"wd":28.7},{"day":28.04,"wd":24.1},{"day":28.09,"wd":19.5},
      {"day":28.14,"wd":14.9},{"day":27.99,"wd":17.2},{"day":27.89,"wd":17.2},{"day":28.19,"wd":8.0},{"day":28.39,"wd":10.3},{"day":28.64,"wd":18.4},
      {"day":28.89,"wd":5.7},{"day":28.94,"wd":10.3},{"day":28.99,"wd":14.9},{"day":29.04,"wd":19.5},{"day":29.09,"wd":12.6},{"day":29.14,"wd":8.0},
      {"day":29.19,"wd":11.5},{"day":29.24,"wd":16.1},{"day":29.29,"wd":8.0},{"day":29.34,"wd":10.3},{"day":29.49,"wd":14.9},{"day":29.54,"wd":19.5},
      {"day":29.59,"wd":24.1},{"day":29.64,"wd":26.4},{"day":29.73,"wd":12.6},{"day":29.78,"wd":6.9},{"day":29.88,"wd":17.2},{"day":29.93,"wd":21.8},
      {"day":29.98,"wd":31.0},{"day":29.96,"wd":90.7},{"day":28.99,"wd":4.6}
    ]
  },
  "encoding": {
    "x": {
      "field": "day", "type": "quantitative",
      "scale": {"domain": [3, 30], "nice": false, "zero": false},
      "axis": {
        "values": [3,4,5,6,7,8,9,10,11,12,13,14,15,16,17,18,19,20,21,22,23,24,25,26,27,28,29,30],
        "labelExpr": "(datum.value - 3) % 3 === 0 ? (datum.value < 10 ? '0' : '') + datum.value + '.11.' : ''",
        "title": "2016", "titleColor": "black", "titlePadding": 5, "titleFontSize": 18,
        "labelColor": "black", "labelPadding": 9,
        "tickColor": "black", "tickSize": 10,
        "domainColor": "black",
        "grid": true, "gridColor": "#b0b0b0", "gridDash": [2, 2], "gridWidth": 0.8,
        "gridOpacity": {"condition": {"test": "(datum.value - 3) % 3 === 0 && datum.value > 3 && datum.value < 30", "value": 1}, "value": 0},
        "encode": {
          "ticks": {"update": {"y2": {"signal": "(datum.value - 3) % 3 === 0 ? 10 : 5"}}}
        }
      }
    }
  },
  "layer": [
    {
      "data": {"name": "pm10"},
      "mark": {"type": "line", "strokeWidth": 3, "clip": true},
      "encoding": {
        "y": {
          "field": "pm10", "type": "quantitative",
          "scale": {"domain": [0, 150], "nice": false},
          "axis": {
            "orient": "left",
            "values": [0,5,10,15,20,25,30,35,40,45,50,55,60,65,70,75,80,85,90,95,100,105,110,115,120,125,130,135,140,145,150],
            "labelExpr": "datum.value % 25 === 0 ? datum.label : ''",
            "title": "PM10 µg/m³", "titleColor": "#6495ED", "titleX": -67, "titleY": 269.5, "titleAngle": 270, "titleBaseline": "middle", "titleAlign": "center",
            "labelColor": "#6495ED", "tickColor": "#6495ED", "tickSize": 10, "labelPadding": 4,
            "domainColor": "#3a66d0", "domainWidth": 1.5,
            "encode": {"ticks": {"update": {"x2": {"signal": "datum.value % 25 === 0 ? -10 : -5"}}}}
          }
        },
        "detail": {"field": "abschnitt"},
        "color": {
          "datum": "PM10 TMW SÜD", "type": "nominal",
          "scale": {
            "domain": ["PM10 TMW SÜD", "Windrichtung SMW (TAWES Bernstein)", "Windgeschwindigkeit 5h-gleitendes Mittel (TAWES Bernstein)", "Temperatur TMW (TAWES Bernstein)", "PM10 TMW Grenzwert"],
            "range": ["#6495ED", "#ff0000", "#808080", "#008000", "#000000"]
          },
          "legend": {
            "title": null, "orient": "none", "legendX": -14, "legendY": -95,
            "columns": 2, "columnPadding": 33, "rowPadding": 7.5, "padding": 6,
            "strokeColor": "#cccccc", "fillColor": "white", "cornerRadius": 3,
            "labelFont": "DejaVu Sans", "labelFontSize": 16, "labelColor": "black", "labelOffset": 30, "labelLimit": 800,
            "symbolSize": 121, "symbolType": "M-1.5,0H4.5", "symbolStrokeWidth": 2.5,
            "encode": {
              "symbols": {
                "update": {
                  "shape": {"signal": "datum.value === 'Windrichtung SMW (TAWES Bernstein)' ? 'M1.0,0A0.45,0.45 0 1,0 1.9,0A0.45,0.45 0 1,0 1.0,0Z' : 'M-1.5,0H4.5'"},
                  "fill": {"signal": "datum.value === 'Windrichtung SMW (TAWES Bernstein)' ? '#ff0000' : 'transparent'"},
                  "stroke": {"signal": "datum.value === 'Windrichtung SMW (TAWES Bernstein)' ? 'transparent' : scale('color', datum.value)"},
                  "strokeWidth": {"signal": "datum.value === 'PM10 TMW Grenzwert' ? 1.5 : 2.5"},
                  "strokeDash": {"signal": "datum.value === 'PM10 TMW Grenzwert' ? [5.5, 3] : [1, 0]"},
                  "size": {"value": 121},
                  "opacity": {"value": 1}
                }
              }
            }
          }
        }
      }
    },
    {
      "data": {"name": "grenzwert"},
      "mark": {"type": "line", "strokeWidth": 1.5, "strokeDash": [6, 3.5]},
      "encoding": {
        "y": {"field": "grenzwert", "type": "quantitative", "scale": {"domain": [0, 150], "nice": false}, "axis": null},
        "color": {"datum": "PM10 TMW Grenzwert", "type": "nominal"}
      }
    },
    {
      "data": {"name": "wd"},
      "mark": {"type": "point", "filled": true, "size": 28, "opacity": 1, "clip": true},
      "encoding": {
        "y": {
          "field": "wd", "type": "quantitative",
          "scale": {"domain": [0, 360], "nice": false},
          "axis": {
            "orient": "right", "offset": 0,
            "values": [0,45,90,135,180,225,270,315,360],
            "labelExpr": "datum.value % 90 === 0 ? datum.label : ''",
            "title": "Windrichtung [°]", "titleColor": "#ff0000", "titleX": 63, "titleY": 269.5, "titleAngle": 270, "titleBaseline": "middle", "titleAlign": "center",
            "labelColor": "#ff0000", "tickColor": "#ff0000", "tickSize": 10, "labelPadding": 8,
            "domainColor": "#ff0000",
            "encode": {"ticks": {"update": {"x2": {"signal": "datum.value % 90 === 0 ? 10 : 6"}}}}
          }
        },
        "color": {"datum": "Windrichtung SMW (TAWES Bernstein)", "type": "nominal"}
      }
    },
    {
      "data": {"name": "ws"},
      "mark": {"type": "line", "strokeWidth": 2, "clip": true},
      "encoding": {
        "y": {
          "field": "ws", "type": "quantitative",
          "scale": {"domain": [0, 12], "nice": false},
          "axis": {
            "orient": "right", "offset": 91,
            "values": [0,1,2,3,4,5,6,7,8,9,10,11,12],
            "labelExpr": "datum.value % 2 === 0 ? datum.label : ''",
            "title": "Windgeschwindigkeit [m/s]", "titleColor": "#808080", "titleX": 52, "titleY": 269.5, "titleAngle": 270, "titleBaseline": "middle", "titleAlign": "center",
            "labelColor": "#808080", "tickColor": "#808080", "tickSize": 10, "labelPadding": 8,
            "domainColor": "#808080",
            "encode": {"ticks": {"update": {"x2": {"signal": "datum.value % 2 === 0 ? 10 : 6"}}}}
          }
        },
        "color": {"datum": "Windgeschwindigkeit 5h-gleitendes Mittel (TAWES Bernstein)", "type": "nominal"}
      }
    },
    {
      "data": {"name": "temp"},
      "mark": {"type": "line", "strokeWidth": 2.5, "clip": true},
      "encoding": {
        "y": {
          "field": "temp", "type": "quantitative",
          "scale": {"domain": [-5, 20], "nice": false, "zero": false},
          "axis": {
            "orient": "right", "offset": 182,
            "values": [-5,-4,-3,-2,-1,0,1,2,3,4,5,6,7,8,9,10,11,12,13,14,15,16,17,18,19,20],
            "labelExpr": "datum.value % 5 === 0 ? datum.label : ''",
            "title": "Temperatur [°C]", "titleColor": "#008000", "titleX": 56, "titleY": 269.5, "titleAngle": 270, "titleBaseline": "middle", "titleAlign": "center",
            "labelColor": "#008000", "tickColor": "#008000", "tickSize": 10, "labelPadding": 8,
            "domainColor": "#008000",
            "encode": {"ticks": {"update": {"x2": {"signal": "datum.value % 5 === 0 ? 10 : 6"}}}}
          }
        },
        "color": {"datum": "Temperatur TMW (TAWES Bernstein)", "type": "nominal"}
      }
    }
  ],
  "resolve": {"scale": {"y": "independent"}, "axis": {"y": "independent"}}
}
